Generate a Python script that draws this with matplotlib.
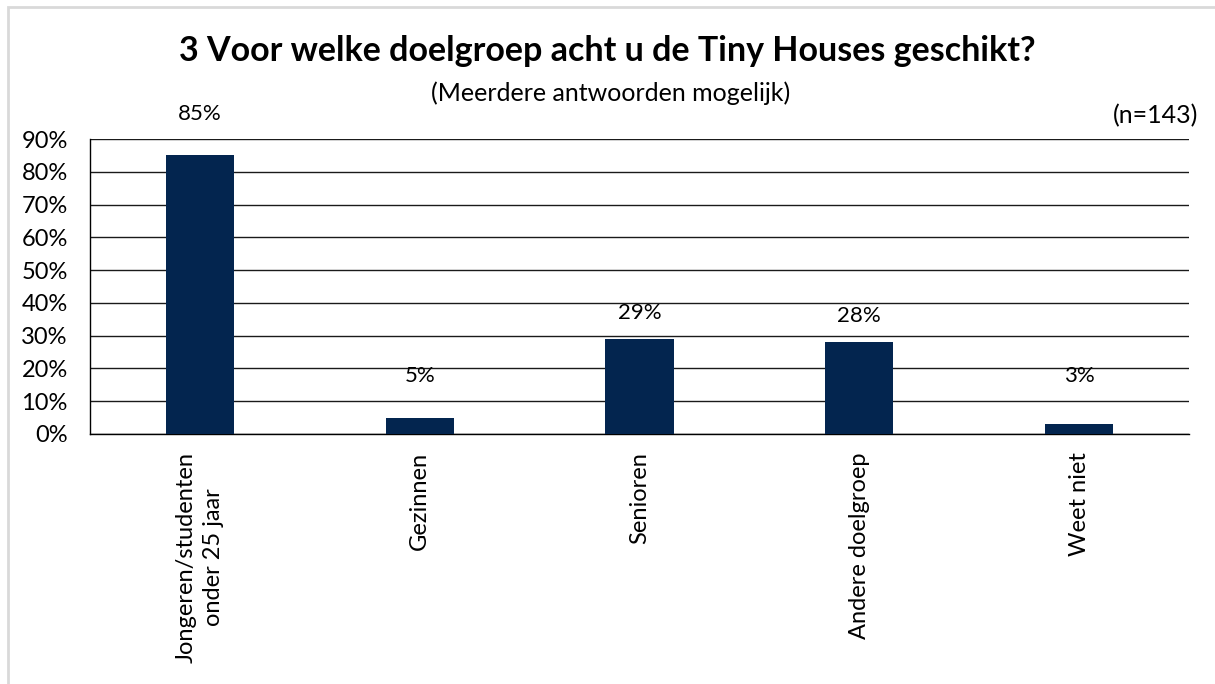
import matplotlib
matplotlib.use("Agg")
import matplotlib.pyplot as plt
from matplotlib.patches import Rectangle

plt.rcParams['font.family'] = ['Lato', 'DejaVu Sans']

categories = ["Jongeren/studenten\nonder 25 jaar", "Gezinnen", "Senioren",
              "Andere doelgroep", "Weet niet"]
values = [85, 5, 29, 28, 3]
value_labels = ["85%", "5%", "29%", "28%", "3%"]
y_ticks = [0, 10, 20, 30, 40, 50, 60, 70, 80, 90]

bar_color = "#03254F"


def label_height(v, top=90):
    # a bit above the bar, never too low, and clear of the top gridline
    y = max(v + 8, 17.7)
    if y > top - 2:
        y = max(y, top + 7.5)
    return y


fig = plt.figure(figsize=(12.15, 6.84), dpi=100)
ax = fig.add_axes([90 / 1215, 1 - 434 / 684, 1099 / 1215, 295 / 684])

x = list(range(len(categories)))
ax.bar(x, values, width=0.31, color=bar_color, zorder=3)

for xi, v, lab in zip(x, values, value_labels):
    ax.text(xi, label_height(v), lab, ha="center", va="center", fontsize=16,
            clip_on=False)

ax.set_xlim(-0.5, len(categories) - 0.5)
ax.set_ylim(0, 90)
ax.set_yticks(y_ticks)
ax.set_yticklabels([f"{t}%" for t in y_ticks], fontsize=17)
ax.yaxis.grid(True, color="#1a1a1a", linewidth=1.0, zorder=0)
ax.set_xticks(x)
ax.set_xticklabels(categories, rotation=90, fontsize=17, va="top",
                   ha="center", multialignment="center", linespacing=1.35)
ax.tick_params(axis="both", length=0)
ax.tick_params(axis="x", pad=13)
ax.tick_params(axis="y", pad=16)
for s in ["top", "right"]:
    ax.spines[s].set_visible(False)
ax.spines["left"].set_linewidth(1.0)
ax.spines["bottom"].set_linewidth(1.0)

fig.text(0.5, 1 - 51 / 684, "3 Voor welke doelgroep acht u de Tiny Houses geschikt?",
         ha="center", va="center", fontsize=24.5, fontweight="bold")
fig.text(611 / 1215, 1 - 93 / 684, "(Meerdere antwoorden mogelijk)",
         ha="center", va="center", fontsize=18)
fig.text(1198 / 1215, 1 - 116 / 684, "(n=143)", ha="right", va="center", fontsize=18)

# light frame around the chart area
fig.patches.append(Rectangle((8 / 1215, -0.1), 1.2, 1 - 7 / 684 + 0.1,
                             transform=fig.transFigure, fill=False,
                             edgecolor="#d9d9d9", linewidth=2))

fig.savefig("out.png", dpi=100)
